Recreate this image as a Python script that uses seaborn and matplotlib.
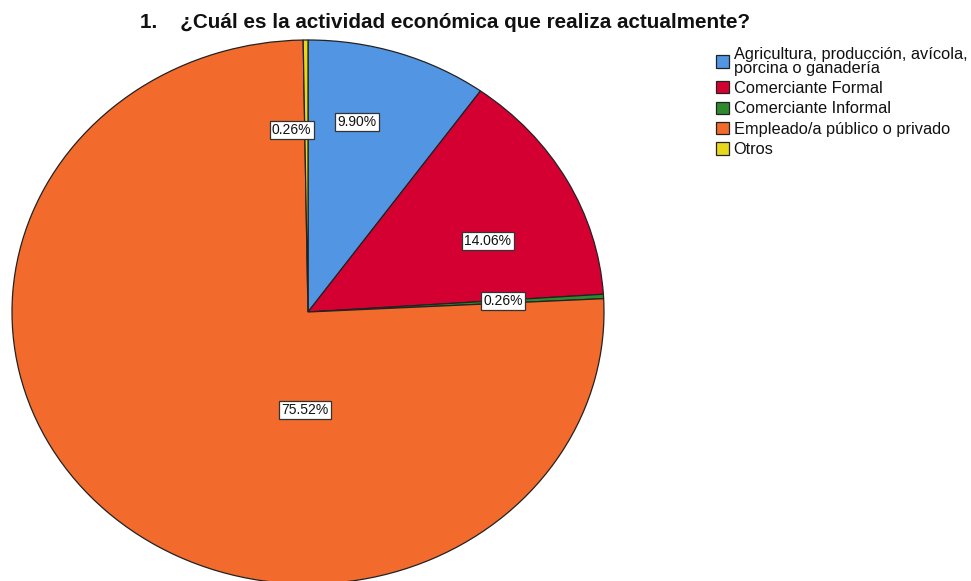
import matplotlib
matplotlib.use("Agg")
import matplotlib.pyplot as plt
import seaborn as sns

# Survey responses: current economic activity (percent of respondents)
categories = [
    "Agricultura, producción, avícola,\nporcina o ganadería",
    "Comerciante Formal",
    "Comerciante Informal",
    "Empleado/a público o privado",
    "Otros",
]
percentages = [9.90, 14.06, 0.26, 75.52, 0.26]
colors = ["#5295E3", "#D50032", "#2E8A2E", "#F26A2C", "#E8D81C"]
title = "1.    ¿Cuál es la actividad económica que realiza actualmente?"

sns.set_theme(style="white")
plt.rcParams["font.family"] = ["Liberation Sans", "DejaVu Sans"]

W, H = 971, 581
fig = plt.figure(figsize=(W / 100, H / 100), dpi=100)

# Axes sized in pixels so the pie is drawn as a slightly flattened ellipse
left_px, right_px, top_px, bottom_px = 12, 604, 40, 584
ax = fig.add_axes([left_px / W, (H - bottom_px) / H,
                   (right_px - left_px) / W, (bottom_px - top_px) / H])

wedges, _ = ax.pie(
    percentages,
    colors=colors,
    startangle=90,
    counterclock=False,
    wedgeprops=dict(edgecolor="#222222", linewidth=0.9),
)
ax.set_aspect("auto")
ax.set_xlim(-1, 1)
ax.set_ylim(-1, 1)
ax.axis("off")
for w in wedges:
    w.set_clip_on(False)

# Value labels (data coordinates inside the pie)
label_pos = [(0.166, 0.699), (0.608, 0.261), (0.66, 0.04), (-0.01, -0.36), (-0.055, 0.669)]
for (x, y), v in zip(label_pos, percentages):
    ax.text(x, y, f"{v:.2f}%", ha="center", va="center", fontsize=10, color="#111111",
            bbox=dict(boxstyle="square,pad=0.17", facecolor="white",
                      edgecolor="#333333", linewidth=0.9))

fig.text(140 / W, 1 - 22.5 / H, title, ha="left", va="center",
         fontsize=14.9, fontweight="bold", color="#111111")

leg = fig.legend(
    wedges, categories,
    loc="upper left", bbox_to_anchor=(716 / W, 1 - 47 / H),
    frameon=False, fontsize=11.8,
    handlelength=0.78, handleheight=0.78, handletextpad=0.3,
    labelspacing=0.33, borderpad=0, borderaxespad=0,
)
for t in leg.get_texts():
    t.set_linespacing(0.88)
    t.set_color("#111111")

fig.savefig("out.png", dpi=100, facecolor="white")
